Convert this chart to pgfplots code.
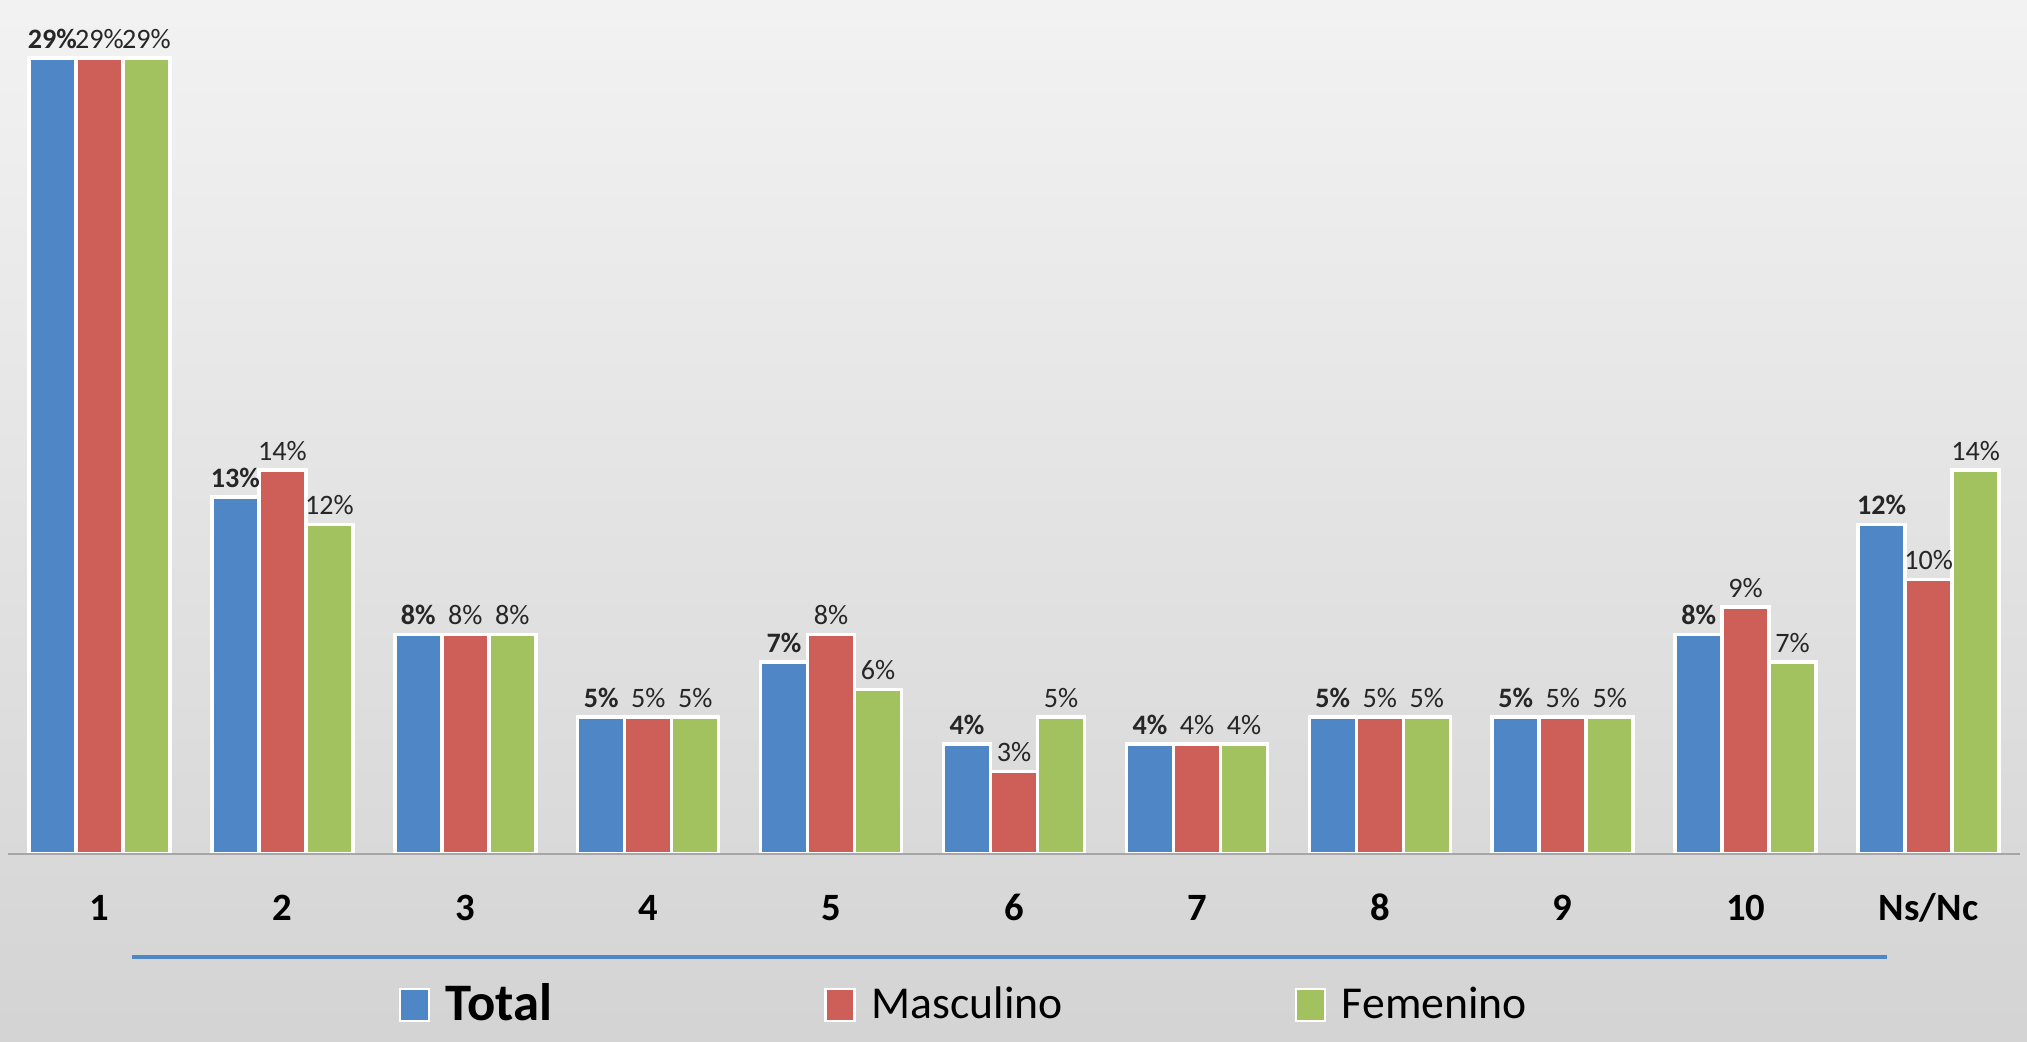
\documentclass[border=0pt]{standalone}
\usepackage{fontspec}
\setmainfont{Carlito}
\usepackage{pgfplots}
\pgfplotsset{compat=1.18}
\definecolor{cBlue}{HTML}{4F86C6}
\definecolor{cRed}{HTML}{CD5E58}
\definecolor{cGreen}{HTML}{A2C260}
\definecolor{axgray}{HTML}{A6A6A6}
\begin{document}
\begin{tikzpicture}[x=1mm,y=1mm]
\useasboundingbox (-0.8,-18.7) rectangle (201.9,85.4);
\fill[top color=white!95!black, bottom color=white!83!black] (-0.8,-18.7) rectangle (201.9,85.4);
\begin{axis}[
  at={(0,0)}, anchor=south west,
  scale only axis, width=201.2mm, height=82.34mm,
  xmin=-0.5, xmax=10.5, ymin=0, ymax=30,
  axis x line=bottom, axis y line=none,
  x axis line style={axgray, line width=0.7pt, -},
  xtick={0,...,10},
  xticklabels={1,2,3,4,5,6,7,8,9,10,Ns/Nc},
  xticklabel style={font=\fontsize{11}{13}\selectfont\bfseries, anchor=base, yshift=-6.6mm},
  major tick length=0pt,
  ybar=0pt, bar width=4.7mm,
  axis on top,
  point meta=y,
  /pgf/number format/assume math mode=true,
  nodes near coords={\pgfmathprintnumber{\pgfplotspointmeta}\%},
  every node near coord/.append style={font=\fontsize{8}{9}\selectfont, text=black!85, inner sep=2.2pt},
  legend style={at={(0.1938,-0.1834)}, anchor=west, draw=none, fill=none, inner sep=0pt,
    legend columns=3, font=\fontsize{13}{16}\selectfont,
    /tikz/every odd column/.append style={column sep=0.9mm},
    /tikz/every even column/.append style={column sep=22.5mm}},
  legend image code/.code={\draw[#1, line width=0.6pt] (0mm,-1.6mm) rectangle (2.9mm,1.6mm);},
]
\addplot[fill=cBlue, draw=white, line width=1pt, every node near coord/.append style={font=\fontsize{8}{9}\selectfont\bfseries}]
  coordinates {(0,29) (1,13) (2,8) (3,5) (4,7) (5,4) (6,4) (7,5) (8,5) (9,8) (10,12)};
\addlegendentry{\fontsize{15}{18}\selectfont\bfseries Total\hspace*{4mm}}
\addplot[fill=cRed, draw=white, line width=1pt]
  coordinates {(0,29) (1,14) (2,8) (3,5) (4,8) (5,3) (6,4) (7,5) (8,5) (9,9) (10,10)};
\addlegendentry{Masculino}
\addplot[fill=cGreen, draw=white, line width=1pt]
  coordinates {(0,29) (1,12) (2,8) (3,5) (4,6) (5,5) (6,4) (7,5) (8,5) (9,7) (10,14)};
\addlegendentry{Femenino}
\end{axis}
\draw[cBlue, line width=1.4pt] (12.4,-10.3) -- (187.9,-10.3);
\end{tikzpicture}
\end{document}
